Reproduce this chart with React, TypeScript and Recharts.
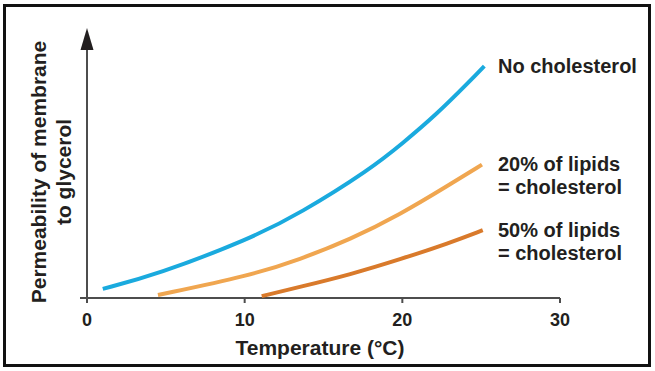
import { LineChart, Line, XAxis, YAxis, ReferenceLine } from "recharts"

// temperature (°C) / relative permeability
const noCholesterol = [
  { t: 1.0, v: 3.4 },
  { t: 4.4, v: 8.6 },
  { t: 10.34, v: 21.9 },
  { t: 13.5, v: 31.3 },
  { t: 17.95, v: 47.6 },
  { t: 20.06, v: 57.5 },
  { t: 22.17, v: 68.0 },
  { t: 24.28, v: 80.3 },
  { t: 25.2, v: 85.9 },
]

const twentyPct = [
  { t: 4.5, v: 1.1 },
  { t: 10.34, v: 8.3 },
  { t: 13.5, v: 14.3 },
  { t: 16.7, v: 21.7 },
  { t: 19.85, v: 30.9 },
  { t: 23.0, v: 42.0 },
  { t: 25.05, v: 49.4 },
]

const fiftyPct = [
  { t: 11.08, v: 0.7 },
  { t: 13.5, v: 4.1 },
  { t: 16.7, v: 8.7 },
  { t: 19.85, v: 14.3 },
  { t: 23.0, v: 20.4 },
  { t: 25.1, v: 25.1 },
]

const xTicks = [0, 10, 20, 30]

const FONT = "'Liberation Sans', Arial, sans-serif"
const TEXT = "#231f20"
const AXIS = "#4d4d4d"

const COLORS = {
  none: "#1aaade",
  twenty: "#f0a650",
  fifty: "#d97a2b",
}

const TempTick = ({ x, y, payload }: any) => (
  <text
    x={x}
    y={y + 21}
    textAnchor="middle"
    fontFamily={FONT}
    fontWeight="bold"
    fontSize={18}
    fill={TEXT}
  >
    {payload.value}
  </text>
)

// y axis drawn as a line with an arrow head on top
const YArrow = (props: any) => {
  const { x1, y1, y2 } = props
  const top = Math.min(y1, y2)
  const bottom = Math.max(y1, y2)
  return (
    <g>
      <line x1={x1} y1={bottom + 5} x2={x1} y2={top + 18} stroke={AXIS} strokeWidth={2} />
      <polygon points={`${x1},${top} ${x1 - 6.5},${top + 22} ${x1 + 6.5},${top + 22}`} fill={TEXT} />
    </g>
  )
}

// x axis, sticking out a little past the y axis
const XBase = (props: any) => {
  const { x1, x2, y1 } = props
  return <line x1={Math.min(x1, x2) - 7} y1={y1} x2={Math.max(x1, x2)} y2={y1} stroke={AXIS} strokeWidth={2} />
}

const labelStyle = {
  fontFamily: FONT,
  fontWeight: "bold" as const,
  fontSize: 20,
  fill: TEXT,
}

const axisTitleStyle = { ...labelStyle, fontSize: 21 }

export default function App() {
  return (
    <div style={{ position: "absolute", left: 0, top: 0, width: 655, height: 371, background: "#fff" }}>
      <div
        style={{
          position: "absolute",
          left: 3,
          top: 4,
          width: 648,
          height: 363,
          border: "3px solid #111",
          boxSizing: "border-box",
        }}
      />
      <div style={{ position: "absolute", left: 0, top: 0 }}>
        <LineChart width={655} height={371} margin={{ top: 28, right: 95, left: 87, bottom: 33 }}>
          <XAxis
            type="number"
            dataKey="t"
            domain={[0, 30]}
            ticks={xTicks}
            height={40}
            axisLine={false}
            tickLine={{ stroke: AXIS, strokeWidth: 2 }}
            tickSize={5}
            tick={<TempTick />}
          />
          <YAxis hide type="number" domain={[0, 100]} />
          <ReferenceLine y={0} shape={<XBase />} />
          <ReferenceLine x={0} shape={<YArrow />} />
          <Line
            data={noCholesterol}
            dataKey="v"
            type="basis"
            stroke={COLORS.none}
            strokeWidth={4}
            dot={false}
            isAnimationActive={false}
          />
          <Line
            data={twentyPct}
            dataKey="v"
            type="basis"
            stroke={COLORS.twenty}
            strokeWidth={4}
            dot={false}
            isAnimationActive={false}
          />
          <Line
            data={fiftyPct}
            dataKey="v"
            type="basis"
            stroke={COLORS.fifty}
            strokeWidth={4}
            dot={false}
            isAnimationActive={false}
          />
        </LineChart>
      </div>
      <svg width={655} height={371} style={{ position: "absolute", left: 0, top: 0, pointerEvents: "none" }}>
        <text transform="translate(46,172) rotate(-90)" textAnchor="middle" {...axisTitleStyle}>
          Permeability of membrane
        </text>
        <text transform="translate(71,172) rotate(-90)" textAnchor="middle" {...axisTitleStyle}>
          to glycerol
        </text>
        <text x={320} y={355} textAnchor="middle" {...axisTitleStyle}>
          Temperature (°C)
        </text>
        <text x={498} y={73} {...labelStyle}>No cholesterol</text>
        <text x={498} y={171} {...labelStyle}>20% of lipids</text>
        <text x={498} y={194} {...labelStyle}>= cholesterol</text>
        <text x={498} y={237} {...labelStyle}>50% of lipids</text>
        <text x={498} y={260} {...labelStyle}>= cholesterol</text>
      </svg>
    </div>
  )
}
